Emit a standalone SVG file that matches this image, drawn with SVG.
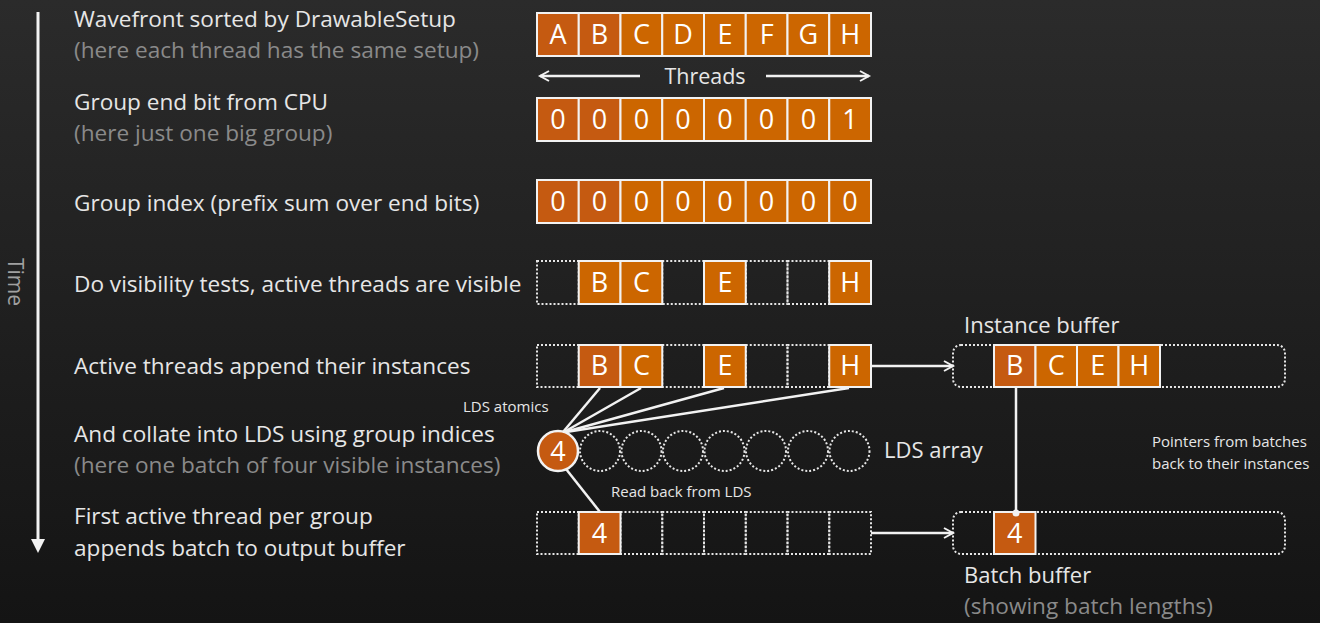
<svg xmlns="http://www.w3.org/2000/svg" width="1320" height="623" viewBox="0 0 1320 623">
<defs>
<linearGradient id="bg" x1="0" y1="0" x2="0" y2="1">
<stop offset="0" stop-color="#2b2b2b"/>
<stop offset="1" stop-color="#141414"/>
</linearGradient>
<marker id="open" markerWidth="14" markerHeight="14" refX="11" refY="7" orient="auto" markerUnits="userSpaceOnUse">
<path d="M2,2 L11,7 L2,12" fill="none" stroke="#f2f2f2" stroke-width="2"/>
</marker>
<style>
.t{font-family:"Open Sans","Noto Sans",sans-serif;font-size:22.6px;fill:#e6e6e6}
.g{font-family:"Open Sans","Noto Sans",sans-serif;font-size:22.6px;fill:#8a8a8a}
.s{font-family:"Open Sans","Noto Sans",sans-serif;font-size:15px;fill:#e6e6e6}
.c{font-family:"Open Sans","Noto Sans",sans-serif;font-size:27px;fill:#ffffff;text-anchor:middle}
.o{fill:#cc6600;stroke:#f2f2f2;stroke-width:2}
.d{fill:#c55a11;stroke:#f2f2f2;stroke-width:2}
.e{fill:none;stroke:#e6e6e6;stroke-width:2;stroke-dasharray:2 2}
.ln{stroke:#f2f2f2;stroke-width:2.5;fill:none}
</style>
</defs>
<rect width="1320" height="623" fill="url(#bg)"/>

<g id="time-axis">
<line x1="38" y1="12" x2="38" y2="540" stroke="#f2f2f2" stroke-width="3"/>
<polygon points="31,539 45,539 38,553" fill="#f2f2f2"/>
<text class="g" transform="translate(8,282) rotate(90)" text-anchor="middle" style="font-size:21px;fill:#a0a0a0">Time</text>
</g>

<g id="labels">
<text class="t" x="74" y="27">Wavefront sorted by DrawableSetup</text>
<text class="g" x="74" y="58">(here each thread has the same setup)</text>
<text class="t" x="74" y="110">Group end bit from CPU</text>
<text class="g" x="74" y="141">(here just one big group)</text>
<text class="t" x="74" y="211">Group index (prefix sum over end bits)</text>
<text class="t" x="74" y="292">Do visibility tests, active threads are visible</text>
<text class="t" x="74" y="374">Active threads append their instances</text>
<text class="t" x="74" y="442">And collate into LDS using group indices</text>
<text class="g" x="74" y="473">(here one batch of four visible instances)</text>
<text class="t" x="74" y="524">First active thread per group</text>
<text class="t" x="74" y="556">appends batch to output buffer</text>
</g>

<g id="row-wavefront">
<rect class="d" x="537" y="13" width="41.75" height="43"/>
<rect class="d" x="578.75" y="13" width="41.75" height="43"/>
<rect class="o" x="620.5" y="13" width="41.75" height="43"/>
<rect class="o" x="662.25" y="13" width="41.75" height="43"/>
<rect class="o" x="704" y="13" width="41.75" height="43"/>
<rect class="o" x="745.75" y="13" width="41.75" height="43"/>
<rect class="o" x="787.5" y="13" width="41.75" height="43"/>
<rect class="o" x="829.25" y="13" width="41.75" height="43"/>
<text class="c" x="558" y="44">A</text>
<text class="c" x="599.6" y="44">B</text>
<text class="c" x="641.4" y="44">C</text>
<text class="c" x="683.1" y="44">D</text>
<text class="c" x="724.9" y="44">E</text>
<text class="c" x="766.6" y="44">F</text>
<text class="c" x="808.4" y="44">G</text>
<text class="c" x="850.1" y="44">H</text>
</g>

<g id="threads-label">
<text class="t" x="705" y="84" text-anchor="middle" style="font-size:21.5px">Threads</text>
</g>

<g id="row-endbits">
<rect class="d" x="537" y="98" width="41.75" height="43"/>
<rect class="d" x="578.75" y="98" width="41.75" height="43"/>
<rect class="o" x="620.5" y="98" width="41.75" height="43"/>
<rect class="o" x="662.25" y="98" width="41.75" height="43"/>
<rect class="o" x="704" y="98" width="41.75" height="43"/>
<rect class="o" x="745.75" y="98" width="41.75" height="43"/>
<rect class="o" x="787.5" y="98" width="41.75" height="43"/>
<rect class="o" x="829.25" y="98" width="41.75" height="43"/>
<text class="c" x="558" y="129">0</text>
<text class="c" x="599.6" y="129">0</text>
<text class="c" x="641.4" y="129">0</text>
<text class="c" x="683.1" y="129">0</text>
<text class="c" x="724.9" y="129">0</text>
<text class="c" x="766.6" y="129">0</text>
<text class="c" x="808.4" y="129">0</text>
<text class="c" x="850.1" y="129">1</text>
</g>

<g id="row-groupindex">
<rect class="d" x="537" y="180" width="41.75" height="43"/>
<rect class="d" x="578.75" y="180" width="41.75" height="43"/>
<rect class="o" x="620.5" y="180" width="41.75" height="43"/>
<rect class="o" x="662.25" y="180" width="41.75" height="43"/>
<rect class="o" x="704" y="180" width="41.75" height="43"/>
<rect class="o" x="745.75" y="180" width="41.75" height="43"/>
<rect class="o" x="787.5" y="180" width="41.75" height="43"/>
<rect class="o" x="829.25" y="180" width="41.75" height="43"/>
<text class="c" x="558" y="211">0</text>
<text class="c" x="599.6" y="211">0</text>
<text class="c" x="641.4" y="211">0</text>
<text class="c" x="683.1" y="211">0</text>
<text class="c" x="724.9" y="211">0</text>
<text class="c" x="766.6" y="211">0</text>
<text class="c" x="808.4" y="211">0</text>
<text class="c" x="850.1" y="211">0</text>
</g>

<g id="row-visibility">
<rect class="e" x="537" y="261" width="41.75" height="43"/>
<rect class="e" x="662.25" y="261" width="41.75" height="43"/>
<rect class="e" x="745.75" y="261" width="41.75" height="43"/>
<rect class="e" x="787.5" y="261" width="41.75" height="43"/>
<rect class="o" x="578.75" y="261" width="41.75" height="43"/>
<rect class="o" x="620.5" y="261" width="41.75" height="43"/>
<rect class="o" x="704" y="261" width="41.75" height="43"/>
<rect class="o" x="829.25" y="261" width="41.75" height="43"/>
<text class="c" x="599.6" y="292">B</text>
<text class="c" x="641.4" y="292">C</text>
<text class="c" x="724.9" y="292">E</text>
<text class="c" x="850.1" y="292">H</text>
</g>

<g id="row-append">
<rect class="e" x="537" y="345" width="41.75" height="42"/>
<rect class="e" x="662.25" y="345" width="41.75" height="42"/>
<rect class="e" x="745.75" y="345" width="41.75" height="42"/>
<rect class="e" x="787.5" y="345" width="41.75" height="42"/>
<rect class="d" x="578.75" y="345" width="41.75" height="42"/>
<rect class="o" x="620.5" y="345" width="41.75" height="42"/>
<rect class="o" x="704" y="345" width="41.75" height="42"/>
<rect class="o" x="829.25" y="345" width="41.75" height="42"/>
<text class="c" x="599.6" y="375">B</text>
<text class="c" x="641.4" y="375">C</text>
<text class="c" x="724.9" y="375">E</text>
<text class="c" x="850.1" y="375">H</text>
</g>

<g id="lds-array">
<circle class="e" cx="600" cy="451" r="20"/>
<circle class="e" cx="641.5" cy="451" r="20"/>
<circle class="e" cx="683" cy="451" r="20"/>
<circle class="e" cx="724.5" cy="451" r="20"/>
<circle class="e" cx="766" cy="451" r="20"/>
<circle class="e" cx="808" cy="451" r="20"/>
<circle class="e" cx="849.5" cy="451" r="20"/>
<text class="t" x="884" y="458" style="font-size:22px">LDS array</text>
</g>

<g id="lds-counter">
<circle cx="558" cy="451" r="20" fill="#c55a11" stroke="#f2f2f2" stroke-width="2.5"/>
<text class="c" x="558" y="461">4</text>
</g>

<g id="row-batch">
<rect class="e" x="537" y="512" width="41.75" height="42"/>
<rect class="e" x="620.5" y="512" width="41.75" height="42"/>
<rect class="e" x="662.25" y="512" width="41.75" height="42"/>
<rect class="e" x="704" y="512" width="41.75" height="42"/>
<rect class="e" x="745.75" y="512" width="41.75" height="42"/>
<rect class="e" x="787.5" y="512" width="41.75" height="42"/>
<rect class="e" x="829.25" y="512" width="41.75" height="42"/>
<rect class="d" x="578.75" y="512" width="41.75" height="42"/>
<text class="c" x="599.6" y="543">4</text>
</g>

<g id="instance-buffer">
<text class="t" x="964" y="333" style="font-size:22px">Instance buffer</text>
<rect class="e" x="953" y="345" width="332" height="42" rx="8"/>
<rect class="d" x="994" y="345" width="41.5" height="42"/>
<rect class="o" x="1035.5" y="345" width="41.5" height="42"/>
<rect class="o" x="1077" y="345" width="41.5" height="42"/>
<rect class="o" x="1118.5" y="345" width="41.5" height="42"/>
<text class="c" x="1014.8" y="375">B</text>
<text class="c" x="1056.3" y="375">C</text>
<text class="c" x="1097.8" y="375">E</text>
<text class="c" x="1139.3" y="375">H</text>
</g>

<g id="batch-buffer">
<rect class="e" x="953" y="512" width="332" height="42" rx="8"/>
<rect class="d" x="994" y="512" width="41.5" height="42"/>
<text class="c" x="1014.8" y="543">4</text>
<text class="t" x="964" y="583" style="font-size:22px">Batch buffer</text>
<text class="g" x="964" y="614">(showing batch lengths)</text>
</g>

<g id="notes">
<text class="s" x="463" y="412">LDS atomics</text>
<text class="s" x="611" y="497">Read back from LDS</text>
<text class="s" x="1152" y="447">Pointers from batches</text>
<text class="s" x="1152" y="469">back to their instances</text>
</g>

<g id="connectors">
<line class="ln" x1="640" y1="76" x2="540" y2="76" marker-end="url(#open)" stroke-width="2"/>
<line class="ln" x1="766" y1="76" x2="869" y2="76" marker-end="url(#open)" stroke-width="2"/>
<line class="ln" x1="600" y1="388" x2="563" y2="432"/>
<line class="ln" x1="641" y1="388" x2="564" y2="432"/>
<line class="ln" x1="724" y1="388" x2="565" y2="432"/>
<line class="ln" x1="849" y1="388" x2="566" y2="432"/>
<line class="ln" x1="566" y1="469" x2="600" y2="512"/>
<line class="ln" x1="871" y1="366" x2="953" y2="366" marker-end="url(#open)"/>
<line class="ln" x1="871" y1="533" x2="953" y2="533" marker-end="url(#open)"/>
<line class="ln" x1="1016" y1="387" x2="1016" y2="513"/>
<circle cx="1016" cy="513" r="3.5" fill="#f2f2f2"/>
</g>
</svg>
